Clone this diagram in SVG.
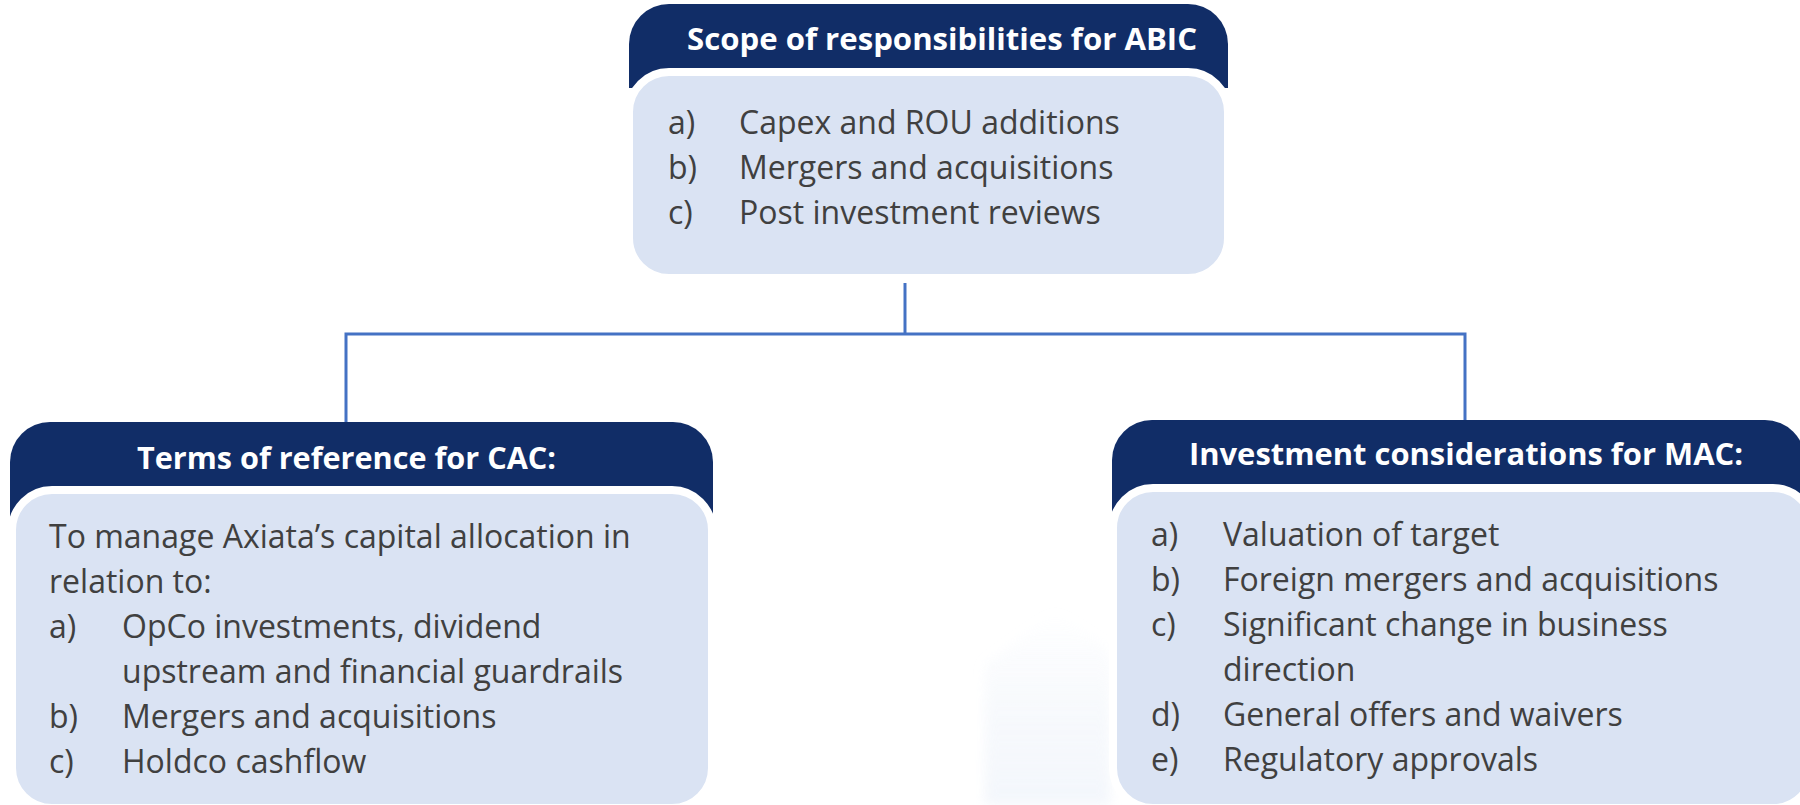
<svg xmlns="http://www.w3.org/2000/svg" width="1800" height="805" viewBox="0 0 1800 805">
  <style>
    .hdr { fill: #112D67; }
    .panel { fill: #DAE3F3; stroke: #FFFFFF; stroke-width: 8; }
    .title { font-family: "Open Sans", "Liberation Sans", sans-serif; font-weight: 700; font-size: 31px; fill: #FFFFFF; }
    .body { font-family: "Open Sans", "Liberation Sans", sans-serif; font-size: 32px; fill: #404040; }
    .link { fill: none; stroke: #4472C4; stroke-width: 3; }
  </style>
  <defs>
    <linearGradient id="wm" x1="0" y1="0" x2="0" y2="1">
      <stop offset="0" stop-color="#EEF3FA" stop-opacity="0"/>
      <stop offset="0.45" stop-color="#EEF3FA" stop-opacity="0.6"/>
      <stop offset="1" stop-color="#EAF0F9" stop-opacity="0.8"/>
    </linearGradient>
    <filter id="soft" x="-20%" y="-20%" width="140%" height="140%">
      <feGaussianBlur stdDeviation="6"/>
    </filter>
  </defs>

  <rect width="1800" height="805" fill="#FFFFFF"/>

  <!-- faint background building -->
  <g filter="url(#soft)" opacity="0.7">
    <polygon points="985,665 1055,610 1110,650 1110,805 985,805" fill="url(#wm)"/>
  </g>

  <!-- connectors -->
  <g id="connectors">
    <path class="link" d="M905,283 V334"/>
    <path class="link" d="M346,422 V334 H1465 V420"/>
  </g>

  <!-- ABIC -->
  <g id="abic">
    <path class="hdr" d="M629,88 V44 A40,40 0 0 1 669,4 H1188 A40,40 0 0 1 1228,44 V88 Z"/>
    <rect class="panel" x="629" y="72" width="599" height="206" rx="40"/>
    <text class="title" x="687" y="50" textLength="510" lengthAdjust="spacingAndGlyphs">Scope of responsibilities for ABIC</text>
    <text class="body" x="668" y="134">a)</text>
    <text class="body" x="739" y="134">Capex and ROU additions</text>
    <text class="body" x="668" y="179">b)</text>
    <text class="body" x="739" y="179">Mergers and acquisitions</text>
    <text class="body" x="668" y="224">c)</text>
    <text class="body" x="739" y="224">Post investment reviews</text>
  </g>

  <!-- CAC -->
  <g id="cac">
    <path class="hdr" d="M10,522 V462 A40,40 0 0 1 50,422 H673 A40,40 0 0 1 713,462 V522 Z"/>
    <rect class="panel" x="12" y="490" width="700" height="318" rx="40"/>
    <text class="title" x="137" y="469" textLength="419" lengthAdjust="spacingAndGlyphs">Terms of reference for CAC:</text>
    <text class="body" x="49" y="548">To manage Axiata’s capital allocation in</text>
    <text class="body" x="49" y="593">relation to:</text>
    <text class="body" x="49" y="638">a)</text>
    <text class="body" x="122" y="638">OpCo investments, dividend</text>
    <text class="body" x="122" y="683">upstream and financial guardrails</text>
    <text class="body" x="49" y="728">b)</text>
    <text class="body" x="122" y="728">Mergers and acquisitions</text>
    <text class="body" x="49" y="773">c)</text>
    <text class="body" x="122" y="773">Holdco cashflow</text>
  </g>

  <!-- MAC -->
  <g id="mac">
    <path class="hdr" d="M1112,520 V460 A40,40 0 0 1 1152,420 H1765 A40,40 0 0 1 1805,460 V520 Z"/>
    <rect class="panel" x="1113" y="488" width="700" height="320" rx="40"/>
    <text class="title" x="1189" y="465" textLength="554" lengthAdjust="spacingAndGlyphs">Investment considerations for MAC:</text>
    <text class="body" x="1151" y="546">a)</text>
    <text class="body" x="1223" y="546">Valuation of target</text>
    <text class="body" x="1151" y="591">b)</text>
    <text class="body" x="1223" y="591">Foreign mergers and acquisitions</text>
    <text class="body" x="1151" y="636">c)</text>
    <text class="body" x="1223" y="636">Significant change in business</text>
    <text class="body" x="1223" y="681">direction</text>
    <text class="body" x="1151" y="726">d)</text>
    <text class="body" x="1223" y="726">General offers and waivers</text>
    <text class="body" x="1151" y="771">e)</text>
    <text class="body" x="1223" y="771">Regulatory approvals</text>
  </g>
</svg>
